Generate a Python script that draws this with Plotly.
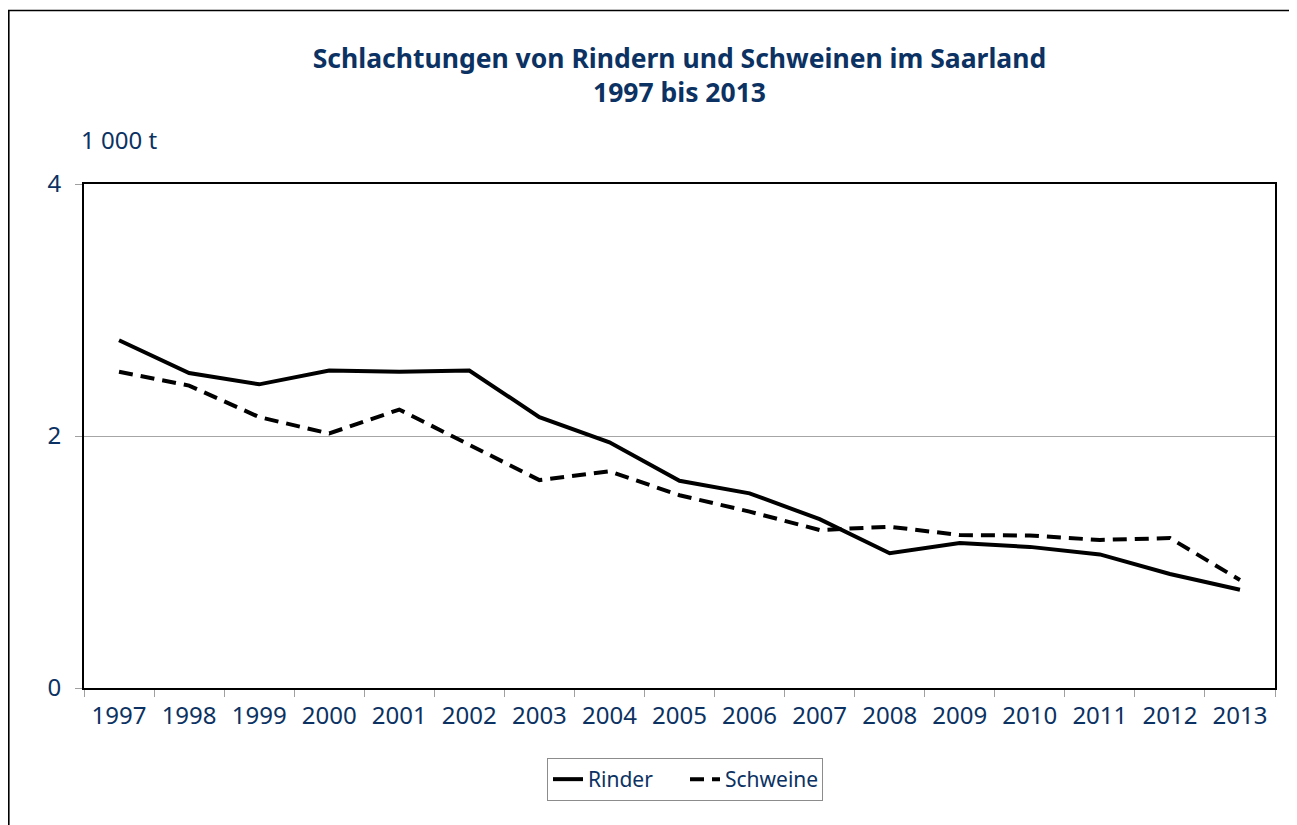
import plotly.graph_objects as go

years = [str(y) for y in range(1997, 2014)]
rinder = [2.76, 2.50, 2.41, 2.52, 2.51, 2.52, 2.15, 1.95, 1.645, 1.545, 1.34, 1.07, 1.15, 1.12, 1.06, 0.905, 0.78]
schweine = [2.51, 2.40, 2.15, 2.02, 2.21, 1.93, 1.65, 1.72, 1.53, 1.40, 1.254, 1.28, 1.214, 1.21, 1.175, 1.19, 0.857]

navy = "#0b3262"
font_main = "Noto Sans, DejaVu Sans, sans-serif"

# page has an 8px body margin; figure pixel coordinates below are page - 8
W, H = 1289, 817
L, R, T, B = 76, 1267, 176, 680
pw, ph = R - L, B - T

def px(x):
    return (x - L) / pw

def py(y):
    return (B - y) / ph

fig = go.Figure()
fig.add_trace(go.Scatter(x=years, y=rinder, name="Rinder", mode="lines",
                         line=dict(color="black", width=4)))
fig.add_trace(go.Scatter(x=years, y=schweine, name="Schweine", mode="lines",
                         line=dict(color="black", width=4, dash="14px,8px")))

fig.update_layout(
    width=W, height=H,
    margin=dict(l=L, r=W - R, t=T, b=H - B),
    paper_bgcolor="white", plot_bgcolor="white",
    font=dict(family=font_main, color=navy, size=22),
    title=dict(text="<b>Schlachtungen von Rindern und Schweinen im Saarland<br>1997 bis 2013</b>",
               x=0.5, xref="paper", y=1 - 60 / H, yref="container", yanchor="middle", xanchor="center",
               font=dict(size=26.5, color=navy, family=font_main)),
    showlegend=True,
    legend=dict(orientation="h", x=px(677), xanchor="center", y=py(750), yanchor="top",
                bordercolor="#8c8c8c", borderwidth=1, bgcolor="white",
                font=dict(size=21, color=navy), traceorder="normal",
                entrywidth=92, entrywidthmode="pixels"),
    xaxis=dict(type="category", showgrid=False, showline=True, linecolor="black", linewidth=2,
               mirror=True, ticks="outside", tickson="boundaries", ticklen=7,
               tickcolor="#a0a0a0", tickfont=dict(size=24, color=navy), range=[-0.5, 16.5],
               ticklabelstandoff=5),
    yaxis=dict(range=[0, 4], dtick=2, showgrid=True, gridcolor="#a6a6a6", gridwidth=1,
               showline=True, linecolor="black", linewidth=2, mirror=True,
               ticks="outside", ticklen=7, tickcolor="#a0a0a0", zeroline=False,
               tickfont=dict(size=24, color=navy), ticklabelstandoff=9),
    annotations=[dict(text="1 000 t", xref="paper", yref="paper", x=px(71),
                      y=py(131), xanchor="left", yanchor="middle", showarrow=False,
                      font=dict(size=24, color=navy))],
    shapes=[dict(type="rect", xref="paper", yref="paper",
                 x0=px(0.8), x1=px(1300),
                 y0=py(840), y1=py(2.5),
                 line=dict(color="black", width=1.6), layer="below")],
)

fig.write_html("out.html")
